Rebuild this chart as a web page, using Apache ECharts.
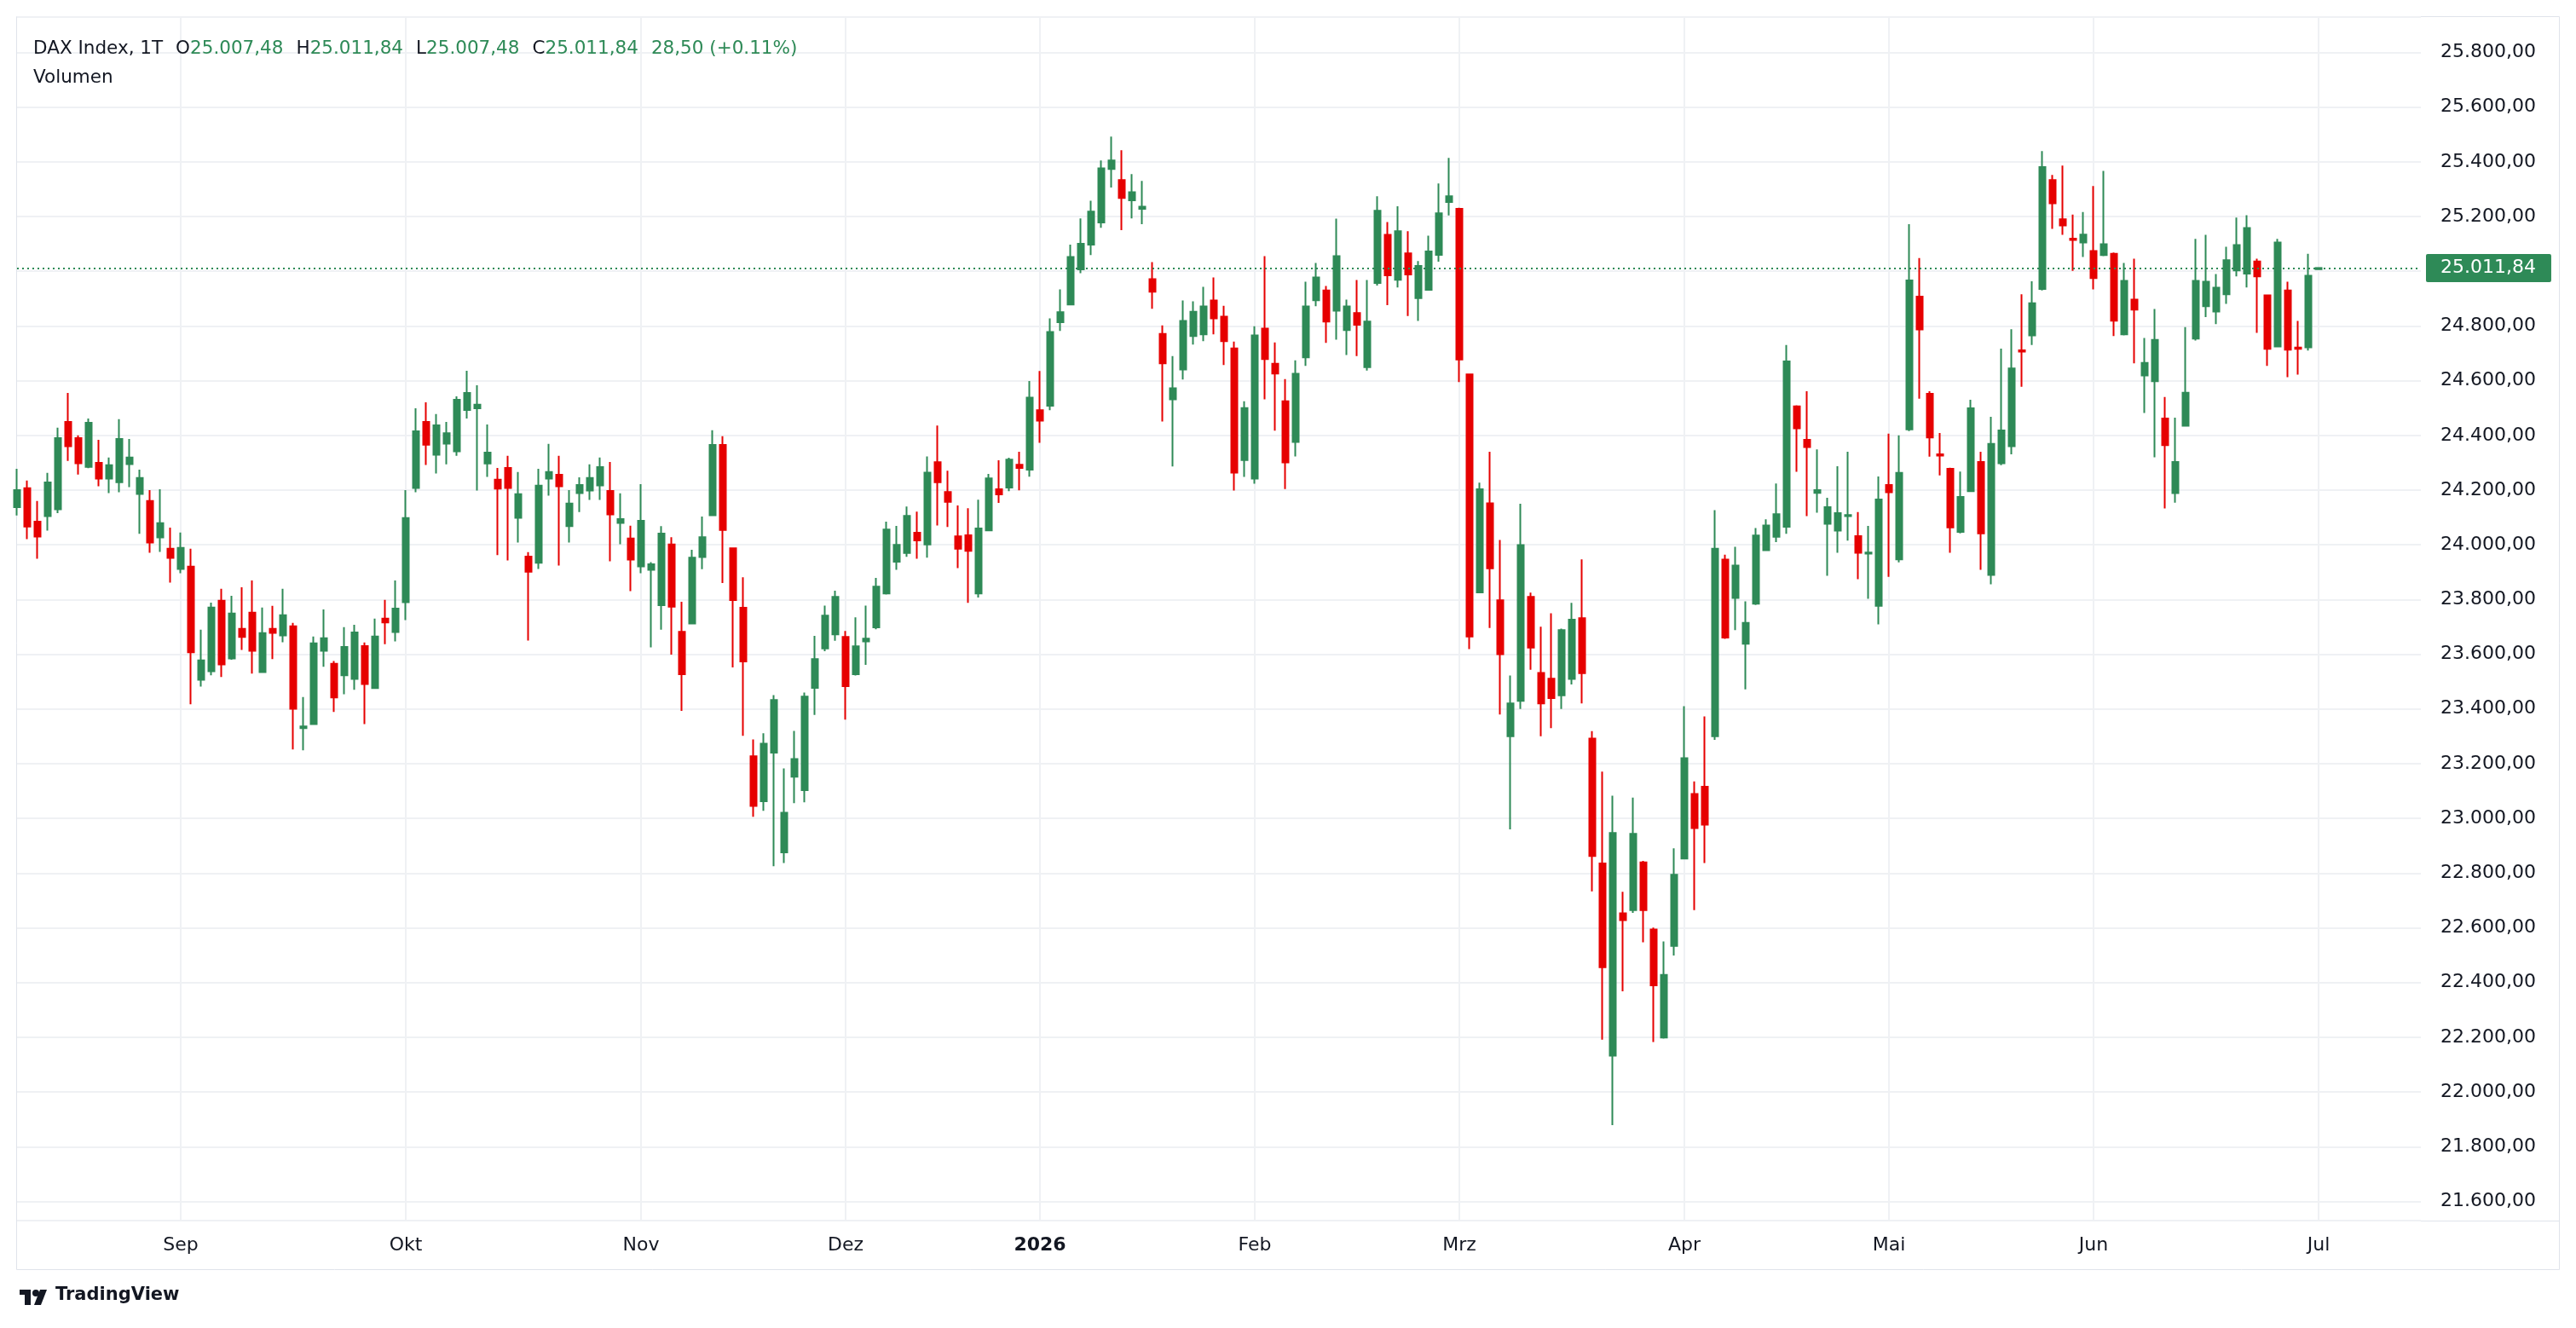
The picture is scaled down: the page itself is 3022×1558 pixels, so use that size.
<!DOCTYPE html>
<html>
<head>
<meta charset="utf-8">
<title>DAX Index, 1T</title>
<script src="https://cdn.jsdelivr.net/npm/echarts@6/dist/echarts.min.js"></script>
<style>
    html, body {margin: 0; padding: 0; background: #ffffff;}
    #main {width: 3022px; height: 1558px;}
</style>
</head>
<body>
<div id="main"></div>
<script>
// Handelstage (Xetra) je Monat
var tradingDays = [
    ['2025-08', [8, 11, 12, 13, 14, 15, 18, 19, 20, 21, 22, 25, 26, 27, 28, 29]],
    ['2025-09', [1, 2, 3, 4, 5, 8, 9, 10, 11, 12, 15, 16, 17, 18, 19, 22, 23, 24, 25, 26, 29, 30]],
    ['2025-10', [1, 2, 3, 6, 7, 8, 9, 10, 13, 14, 15, 16, 17, 20, 21, 22, 23, 24, 27, 28, 29, 30, 31]],
    ['2025-11', [3, 4, 5, 6, 7, 10, 11, 12, 13, 14, 17, 18, 19, 20, 21, 24, 25, 26, 27, 28]],
    ['2025-12', [1, 2, 3, 4, 5, 8, 9, 10, 11, 12, 15, 16, 17, 18, 19, 22, 23, 29, 30]],
    ['2026-01', [2, 5, 6, 7, 8, 9, 12, 13, 14, 15, 16, 19, 20, 21, 22, 23, 26, 27, 28, 29, 30]],
    ['2026-02', [2, 3, 4, 5, 6, 9, 10, 11, 12, 13, 16, 17, 18, 19, 20, 23, 24, 25, 26, 27]],
    ['2026-03', [2, 3, 4, 5, 6, 9, 10, 11, 12, 13, 16, 17, 18, 19, 20, 23, 24, 25, 26, 27, 30, 31]],
    ['2026-04', [1, 2, 7, 8, 9, 10, 13, 14, 15, 16, 17, 20, 21, 22, 23, 24, 27, 28, 29, 30]],
    ['2026-05', [4, 5, 6, 7, 8, 11, 12, 13, 14, 15, 18, 19, 20, 21, 22, 25, 26, 27, 28, 29]],
    ['2026-06', [1, 2, 3, 4, 5, 8, 9, 10, 11, 12, 15, 16, 17, 18, 19, 22, 23, 24, 25, 26, 29, 30]],
    ['2026-07', [1]]
];

var monthLabels = {
    '2025-09': 'Sep', '2025-10': 'Okt', '2025-11': 'Nov', '2025-12': 'Dez',
    '2026-01': '2026', '2026-02': 'Feb', '2026-03': 'Mrz', '2026-04': 'Apr',
    '2026-05': 'Mai', '2026-06': 'Jun', '2026-07': 'Jul'
};

var opens = [
    24138, 24207, 24085, 24105, 24130, 24449, 24390, 24285, 24300, 24242, 24229, 24295, 24186, 24160, 24027, 23986,
    23912, 23920, 23507, 23538, 23796, 23585, 23693, 23752, 23535, 23693, 23669, 23702, 23330, 23345, 23613, 23565, 23523, 23510, 23630, 23476, 23730, 23681,
    23790, 24208, 24449, 24329, 24370, 24342, 24493, 24499, 24297, 24238, 24281, 24099, 23957, 23934, 24242, 24256, 24068, 24189, 24198, 24217, 24197, 24080, 24023,
    23921, 23909, 23779, 24001, 23682, 23712, 23955, 24108, 24365, 23987, 23770, 23227, 23063, 23240, 22876, 23152, 23103, 23477, 23621, 23673,
    23663, 23527, 23647, 23698, 23822, 23938, 23970, 24044, 24001, 24302, 24193, 24031, 24035, 23822, 24053, 24203, 24209, 24293, 24275,
    24492, 24508, 24814, 24878, 25007, 25097, 25178, 25374, 25333, 25259, 25228, 24971, 24771, 24532, 24641, 24763, 24769, 24893, 24834, 24718, 24310,
    24242, 24790, 24662, 24525, 24376, 24685, 24894, 24930, 24856, 24785, 24847, 24649, 24957, 25133, 24969, 25065, 24902, 24932, 25060, 25253,
    25228, 24623, 23826, 24152, 23797, 23300, 23430, 23810, 23532, 23511, 23450, 23510, 23732, 23292, 22835, 22133, 22653, 22665, 22839, 22594, 22199, 22534,
    22853, 23089, 23116, 23300, 23946, 23806, 23638, 23785, 23980, 24029, 24066, 24506, 24384, 24190, 24077, 24052, 24105, 24032, 23968, 23777,
    24219, 23947, 24422, 24907, 24552, 24331, 24278, 24047, 24196, 24303, 23890, 24298, 24360, 24711, 24765, 24935, 25333, 25190, 25119, 25105,
    25074, 25059, 25064, 24769, 24896, 24619, 24598, 24462, 24189, 24435, 24754, 24872, 24853, 24916, 25003, 24991, 25036, 24912, 24725, 24930, 24721, 24722,
    25007.48
];
var highs = [
    24278, 24235, 24160, 24263, 24428, 24555, 24400, 24462, 24384, 24319, 24459, 24387, 24275, 24200, 24203, 24063,
    24045, 23986, 23690, 23789, 23839, 23814, 23845, 23870, 23771, 23777, 23839, 23715, 23444, 23665, 23764, 23575, 23699, 23708, 23643, 23730, 23799, 23870,
    24200, 24499, 24521, 24478, 24449, 24543, 24636, 24583, 24440, 24281, 24325, 24266, 23973, 24278, 24369, 24325, 24200, 24247, 24294, 24319, 24303, 24188, 24070,
    24222, 23937, 24068, 24028, 23792, 23982, 24103, 24419, 24397, 23990, 23881, 23289, 23311, 23451, 23183, 23320, 23460, 23667, 23778, 23832,
    23685, 23735, 23778, 23879, 24085, 24069, 24140, 24121, 24323, 24436, 24271, 24144, 24134, 24165, 24259, 24309, 24318, 24340, 24599,
    24635, 24828, 24934, 25097, 25193, 25258, 25405, 25492, 25442, 25355, 25330, 25033, 24802, 24690, 24893, 24890, 24943, 24977, 24874, 24743, 24525,
    24799, 25055, 24740, 24606, 24674, 24962, 25030, 24946, 25192, 24896, 24968, 24968, 25274, 25180, 25237, 25146, 25037, 25130, 25321, 25414,
    25232, 24626, 24227, 24340, 24018, 23522, 24150, 23825, 23701, 23750, 23694, 23788, 23947, 23319, 23171, 23083, 22732, 23076, 22845, 22601, 22550, 22891,
    23410, 23135, 23373, 24127, 23964, 23993, 23793, 24061, 24093, 24224, 24730, 24510, 24561, 24349, 24172, 24287, 24340, 24120, 24069, 24250,
    24406, 24400, 25172, 25048, 24561, 24409, 24282, 24268, 24530, 24340, 24468, 24717, 24788, 24916, 24963, 25439, 25352, 25386, 25207, 25216,
    25311, 25367, 25068, 25030, 25046, 24756, 24862, 24540, 24465, 24796, 25118, 25133, 24990, 25089, 25196, 25205, 25046, 24915, 25118, 24962, 24818, 25064,
    25011.84
];
var lows = [
    24107, 24021, 23949, 24052, 24116, 24307, 24257, 24280, 24214, 24189, 24192, 24211, 24040, 23971, 23974, 23862,
    23896, 23417, 23482, 23523, 23517, 23580, 23616, 23529, 23532, 23582, 23644, 23252, 23249, 23342, 23554, 23389, 23454, 23470, 23345, 23474, 23637, 23647,
    23725, 24192, 24292, 24261, 24294, 24325, 24462, 24198, 24248, 23962, 23943, 24008, 23650, 23912, 24180, 23924, 24008, 24120, 24164, 24164, 23940, 24002, 23831,
    23896, 23625, 23690, 23599, 23393, 23710, 23911, 24105, 23860, 23552, 23302, 23006, 23028, 22825, 22837, 23056, 23059, 23378, 23611, 23649,
    23361, 23522, 23561, 23691, 23818, 23909, 23956, 23949, 23953, 24071, 24065, 23915, 23788, 23807, 24050, 24153, 24196, 24199, 24249,
    24373, 24492, 24782, 24875, 24993, 25059, 25159, 25306, 25150, 25193, 25172, 24863, 24451, 24286, 24604, 24732, 24744, 24769, 24657, 24198, 24248,
    24223, 24532, 24417, 24204, 24323, 24654, 24872, 24738, 24750, 24694, 24690, 24637, 24948, 24876, 24941, 24836, 24818, 24929, 25035, 25204,
    24595, 23619, 23826, 23696, 23380, 22960, 23400, 23543, 23300, 23330, 23400, 23490, 23420, 22733, 22191, 21879, 22368, 22655, 22547, 22183, 22195, 22499,
    22850, 22665, 22837, 23287, 23656, 23688, 23472, 23780, 23977, 24010, 24040, 24267, 24105, 24117, 23887, 23971, 24015, 23874, 23803, 23709,
    23883, 23936, 24416, 24534, 24322, 24254, 23971, 24042, 24193, 23909, 23856, 24291, 24331, 24578, 24730, 24930, 25155, 25133, 25001, 25052,
    24934, 25055, 24763, 24765, 24663, 24482, 24320, 24133, 24154, 24432, 24747, 24832, 24807, 24881, 24981, 24941, 24775, 24654, 24722, 24613, 24622, 24710,
    25007.48
];
var closes = [
    24200, 24067, 24030, 24228, 24390, 24360, 24298, 24446, 24242, 24291, 24387, 24319, 24244, 24008, 24079, 23952,
    23989, 23607, 23578, 23771, 23563, 23749, 23663, 23613, 23677, 23678, 23743, 23401, 23336, 23640, 23659, 23442, 23627, 23680, 23491, 23665, 23716, 23767,
    24098, 24415, 24366, 24437, 24408, 24530, 24555, 24512, 24337, 24205, 24208, 24185, 23902, 24216, 24266, 24214, 24151, 24219, 24244, 24284, 24111, 24094, 23946,
    24088, 23929, 24041, 23774, 23527, 23953, 24028, 24365, 24054, 23798, 23574, 23046, 23273, 23433, 23021, 23217, 23445, 23582, 23741, 23810,
    23483, 23629, 23657, 23847, 24056, 24000, 24106, 24016, 24264, 24229, 24157, 23986, 23978, 24060, 24243, 24184, 24311, 24281, 24538,
    24454, 24778, 24850, 25052, 25100, 25218, 25376, 25405, 25268, 25289, 25236, 24925, 24663, 24572, 24818, 24852, 24871, 24828, 24744, 24264, 24500,
    24765, 24679, 24626, 24301, 24625, 24871, 24977, 24816, 25055, 24871, 24804, 24816, 25221, 24985, 25146, 24988, 25019, 25072, 25212, 25274,
    24677, 23665, 24203, 23914, 23600, 23420, 23999, 23624, 23420, 23440, 23688, 23726, 23531, 22863, 22456, 22947, 22628, 22944, 22665, 22390, 22428, 22794,
    23220, 22965, 22977, 23986, 23661, 23924, 23715, 24034, 24071, 24112, 24670, 24426, 24357, 24200, 24138, 24116, 24109, 23971, 23972, 24166,
    24192, 24263, 24966, 24787, 24392, 24326, 24064, 24175, 24499, 24042, 24369, 24418, 24645, 24706, 24883, 25381, 25248, 25167, 25114, 25134,
    24975, 25099, 24819, 24965, 24860, 24665, 24749, 24364, 24303, 24556, 24965, 24962, 24940, 25040, 25096, 25158, 24981, 24716, 25105, 24713, 24716, 24983.34,
    25011.84
];

var emptySlots = 10;   // freie Plaetze rechts vom letzten Kerzenstab

var UP = '#2e8a57';
var DOWN = '#e60000';
var TEXT = '#131722';
var FONT = 'DejaVu Sans';

function fmt(v) {
    var parts = Math.abs(v).toFixed(2).split('.');
    var s = parts[0].replace(/\B(?=(\d{3})+(?!\d))/g, '.') + ',' + parts[1];
    return (v < 0 ? '-' : '') + s;
}

// Kategorien + Monatsanfaenge
var categories = [];
var monthStart = {};
tradingDays.forEach(function (m) {
    m[1].forEach(function (d, di) {
        if (di === 0 && monthLabels[m[0]]) {
            monthStart[categories.length] = monthLabels[m[0]];
        }
        categories.push(m[0] + '-' + (d < 10 ? '0' + d : d));
    });
});
for (var p = 1; p <= emptySlots; p++) {
    categories.push('frei' + p);
}

var candleData = opens.map(function (o, i) {
    return [o, closes[i], lows[i], highs[i]];
});

var n = closes.length;
var last = {o: opens[n - 1], h: highs[n - 1], l: lows[n - 1], c: closes[n - 1]};
var chg = last.c - closes[n - 2];
var chgPct = chg / closes[n - 2] * 100;

var header = '{t|DAX Index, 1T}{s|}' +
    '{k|O}{g|' + fmt(last.o) + '}{s|}' +
    '{k|H}{g|' + fmt(last.h) + '}{s|}' +
    '{k|L}{g|' + fmt(last.l) + '}{s|}' +
    '{k|C}{g|' + fmt(last.c) + '}{s|}' +
    '{g|' + fmt(chg) + ' (' + (chg >= 0 ? '+' : '') + chgPct.toFixed(2) + '%)}';

var myChart = echarts.init(document.getElementById('main'));

var option = {
    animation: false,
    backgroundColor: '#ffffff',
    title: [{
        left: 34,
        top: 41,
        text: header,
        textStyle: {
            fontWeight: 'normal',
            rich: {
                t: {fontFamily: FONT, fontSize: 21.5, color: TEXT, fontWeight: 'normal'},
                k: {fontFamily: FONT, fontSize: 21.5, color: TEXT, fontWeight: 'normal'},
                g: {fontFamily: FONT, fontSize: 21.5, color: UP, fontWeight: 'normal'},
                s: {width: 15}
            }
        }
    }, {
        left: 34,
        top: 75,
        text: 'Volumen',
        textStyle: {fontFamily: FONT, fontSize: 21.5, color: TEXT, fontWeight: 'normal'}
    }],
    grid: {
        left: 20,
        top: 20,
        width: 2820,
        bottom: 126,
        containLabel: false
    },
    xAxis: {
        type: 'category',
        data: categories,
        boundaryGap: false,
        axisLine: {show: false},
        axisTick: {show: false},
        axisLabel: {
            interval: function (idx) {
                return monthStart[idx] !== undefined;
            },
            formatter: function (val, idx) {
                var lab = monthStart[idx];
                if (lab === undefined) return '';
                return lab === '2026' ? '{b|' + lab + '}' : lab;
            },
            margin: 18,
            fontFamily: FONT,
            fontSize: 22,
            color: TEXT,
            rich: {
                b: {fontFamily: FONT, fontSize: 22, color: TEXT, fontWeight: 'bold'}
            }
        },
        splitLine: {
            show: true,
            interval: function (idx) {
                return monthStart[idx] !== undefined;
            },
            lineStyle: {color: '#eff1f4', width: 2}
        }
    },
    yAxis: {
        type: 'value',
        position: 'right',
        scale: true,
        min: 21530,
        max: 25929,
        splitNumber: 22,
        minInterval: 200,
        maxInterval: 200,
        axisLine: {show: false},
        axisTick: {show: false},
        axisLabel: {
            margin: 23,
            fontFamily: FONT,
            fontSize: 22,
            color: TEXT,
            showMinLabel: false,
            showMaxLabel: false,
            formatter: function (v) {
                return fmt(v);
            }
        },
        splitLine: {lineStyle: {color: '#eff1f4', width: 2}}
    },
    series: [{
        type: 'candlestick',
        data: candleData,
        barWidth: 8,
        itemStyle: {
            color: UP,
            color0: DOWN,
            borderColor: UP,
            borderColor0: DOWN,
            borderWidth: 2
        },
        markLine: {
            silent: true,
            symbol: ['none', 'none'],
            data: [{yAxis: last.c}],
            lineStyle: {color: UP, type: [2, 4], width: 2},
            label: {
                show: true,
                position: 'end',
                distance: 6,
                formatter: function () {
                    return fmt(last.c);
                },
                fontFamily: FONT,
                fontSize: 22,
                lineHeight: 24,
                color: '#ffffff',
                backgroundColor: UP,
                borderRadius: 2,
                padding: [5, 18, 4, 17]
            }
        }
    }],
    graphic: [
        // Rahmen des Diagrammbereichs
        {
            type: 'rect', silent: true, z: 0,
            shape: {x: 19.5, y: 19.5, width: 2983, height: 1470},
            style: {fill: null, stroke: '#e0e3eb', lineWidth: 1}
        },
        {
            type: 'line', silent: true,
            shape: {x1: 19.5, y1: 1432.5, x2: 3002.5, y2: 1432.5},
            style: {stroke: '#e0e3eb', lineWidth: 1}
        },
        // TradingView-Logo
        {
            type: 'group', left: 23, top: 1513, silent: true,
            children: [
                {type: 'rect', shape: {x: 0, y: 0, width: 13, height: 6}, style: {fill: TEXT}},
                {type: 'rect', shape: {x: 6, y: 0, width: 7, height: 18}, style: {fill: TEXT}},
                {type: 'circle', shape: {cx: 19, cy: 4, r: 4}, style: {fill: TEXT}},
                {type: 'polygon', shape: {points: [[24, 0], [32, 0], [25, 18], [17, 18]]}, style: {fill: TEXT}}
            ]
        },
        {
            type: 'text', left: 65, top: 1509, silent: true,
            style: {text: 'TradingView', fontFamily: FONT, fontSize: 21, fontWeight: 'bold', fill: TEXT}
        }
    ]
};

myChart.setOption(option);
</script>
</body>
</html>
